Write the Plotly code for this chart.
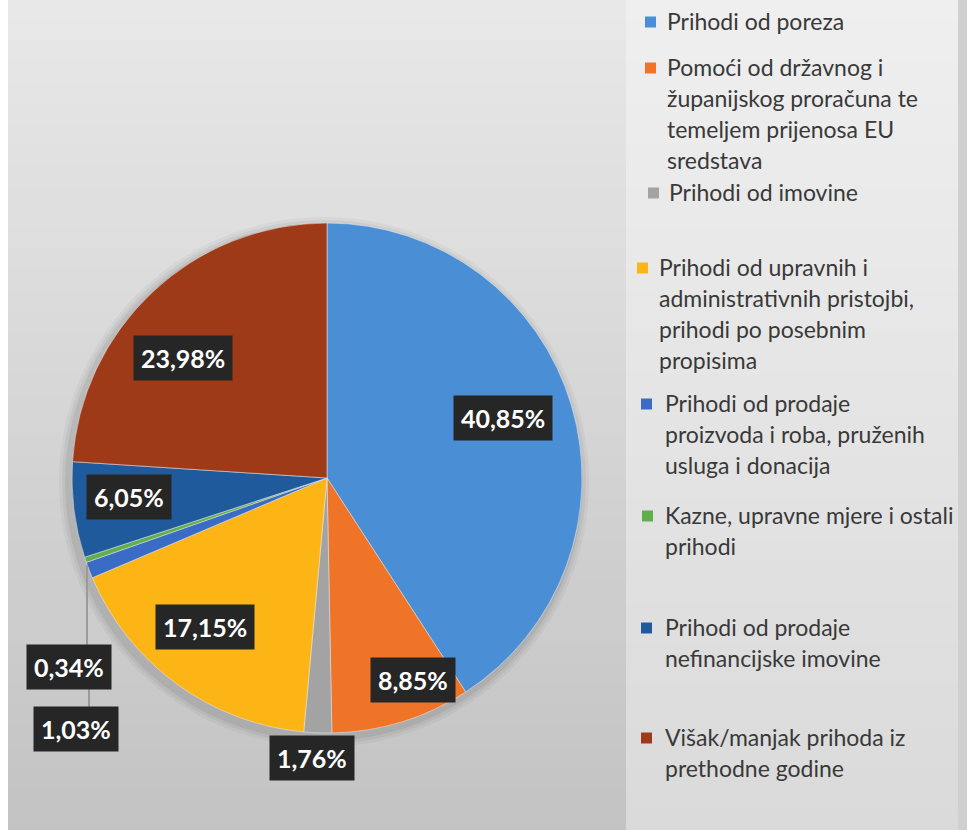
import plotly.graph_objects as go

# ---------------- data ----------------
categories = [
    "Prihodi od poreza",
    "Pomoći od državnog i\nžupanijskog proračuna te\ntemeljem prijenosa EU\nsredstava",
    "Prihodi od imovine",
    "Prihodi od upravnih i\nadministrativnih pristojbi,\nprihodi po posebnim\npropisima",
    "Prihodi od prodaje\nproizvoda i roba, pruženih\nusluga i donacija",
    "Kazne, upravne mjere i ostali\nprihodi",
    "Prihodi od prodaje\nnefinancijske imovine",
    "Višak/manjak prihoda iz\nprethodne godine",
]
shares = [40.85, 8.85, 1.76, 17.15, 1.03, 0.34, 6.05, 23.98]
colors = ["#4a8fd6", "#ef7428", "#a3a3a3", "#fdb516", "#3a6cc6", "#5fb04c", "#1f5b9c", "#9f3a18"]

# ---------------- layout / style ----------------
W, H = 967, 830
CX, CY, R = 327, 478, 255          # pie centre / radius in pixels
# data label box centres (pixels)
label_pos = [(503, 418), (413, 680), (312, 758), (205, 627), (76, 729), (69, 667), (129, 497), (183, 358)]
# legend layout (pixels)
leg_first_y = [21, 67, 192, 267, 403, 515, 627, 737]
leg_sq_x = [645, 645, 648, 637, 641, 642, 641, 641]
leg_txt_x = [665, 665, 667, 657, 663, 663, 663, 663]
LINE_H = 31
SQ = 11


def px(x):
    return x / W


def py(y):
    return 1 - y / H


def mix(c1, c2, t):
    a = [int(c1[i:i + 2], 16) for i in (1, 3, 5)]
    b = [int(c2[i:i + 2], 16) for i in (1, 3, 5)]
    return "#" + "".join(f"{round(a[k] + (b[k] - a[k]) * t):02x}" for k in range(3))


shapes = []
# background gradients
N = 40
for i in range(N):
    t = i / (N - 1)
    y0, y1 = H * i / N, H * (i + 1) / N + 1
    shapes.append(dict(type="rect", xref="paper", yref="paper", layer="below",
                       x0=0, x1=px(626), y0=py(y1), y1=py(y0),
                       fillcolor=mix("#e8e8e8", "#c3c3c3", t), line=dict(width=0)))
    shapes.append(dict(type="rect", xref="paper", yref="paper", layer="below",
                       x0=px(626), x1=px(958), y0=py(y1), y1=py(y0),
                       fillcolor=mix("#efefef", "#dadada", t), line=dict(width=0)))
shapes.append(dict(type="rect", xref="paper", yref="paper", layer="below",
                   x0=px(958), x1=1, y0=0, y1=1, fillcolor="#d0d0d0", line=dict(width=0)))
shapes.append(dict(type="rect", xref="paper", yref="paper", layer="below",
                   x0=0, x1=px(8), y0=0, y1=1, fillcolor="#ffffff", line=dict(width=0)))

# soft pie shadow
for k, a in [(10, 0.035), (7, 0.045), (4, 0.06)]:
    shapes.append(dict(type="circle", xref="paper", yref="paper", layer="below",
                       x0=px(CX - R - k - 3), x1=px(CX + R + k - 3),
                       y0=py(CY + R + k + 4), y1=py(CY - R - k + 4),
                       fillcolor=f"rgba(0,0,0,{a})", line=dict(width=0)))

# leader lines for the two small outside labels
shapes.append(dict(type="line", xref="paper", yref="paper",
                   x0=px(87), x1=px(87), y0=py(565), y1=py(646),
                   line=dict(color="#9a9a9a", width=2)))
shapes.append(dict(type="line", xref="paper", yref="paper",
                   x0=px(89), x1=px(89), y0=py(688), y1=py(709),
                   line=dict(color="#9a9a9a", width=2)))

annotations = []
# data labels
for v, (lx, ly) in zip(shares, label_pos):
    annotations.append(dict(
        xref="paper", yref="paper", x=px(lx), y=py(ly),
        xanchor="center", yanchor="middle", showarrow=False,
        text=f"{v:.2f}".replace(".", ",") + "%",
        font=dict(family="Lato, Open Sans, sans-serif", size=25, color="#ffffff", weight="bold"),
        bgcolor="#262626", borderpad=7,
    ))

# legend (custom, to reproduce the generous line spacing)
for cat, col, y0, sx, tx in zip(categories, colors, leg_first_y, leg_sq_x, leg_txt_x):
    shapes.append(dict(type="rect", xref="paper", yref="paper",
                       x0=px(sx), x1=px(sx + SQ), y0=py(y0 + SQ / 2 + 1), y1=py(y0 - SQ / 2 + 1),
                       fillcolor=col, line=dict(width=0)))
    for j, line in enumerate(cat.split("\n")):
        annotations.append(dict(
            xref="paper", yref="paper", x=px(tx), y=py(y0 + j * LINE_H),
            xanchor="left", yanchor="middle", showarrow=False, text=line,
            font=dict(family="Lato, Open Sans, sans-serif", size=23, color="#393939"),
        ))

fig = go.Figure(go.Pie(
    labels=[c.replace("\n", " ") for c in categories],
    values=shares,
    sort=False,
    direction="clockwise",
    rotation=0,
    marker=dict(colors=colors, line=dict(color="rgba(235,235,235,0.5)", width=1)),
    textinfo="none",
    hoverinfo="label+percent",
    showlegend=False,
    domain=dict(x=[px(CX - R), px(CX + R)], y=[py(CY + R), py(CY - R)]),
))

fig.update_layout(
    width=W, height=H,
    margin=dict(l=0, r=0, t=0, b=0),
    paper_bgcolor="#dcdcdc",
    plot_bgcolor="#dcdcdc",
    shapes=shapes,
    annotations=annotations,
)

fig.write_html("out.html", config={"displayModeBar": False},
               post_script="document.body.style.margin='0';")
